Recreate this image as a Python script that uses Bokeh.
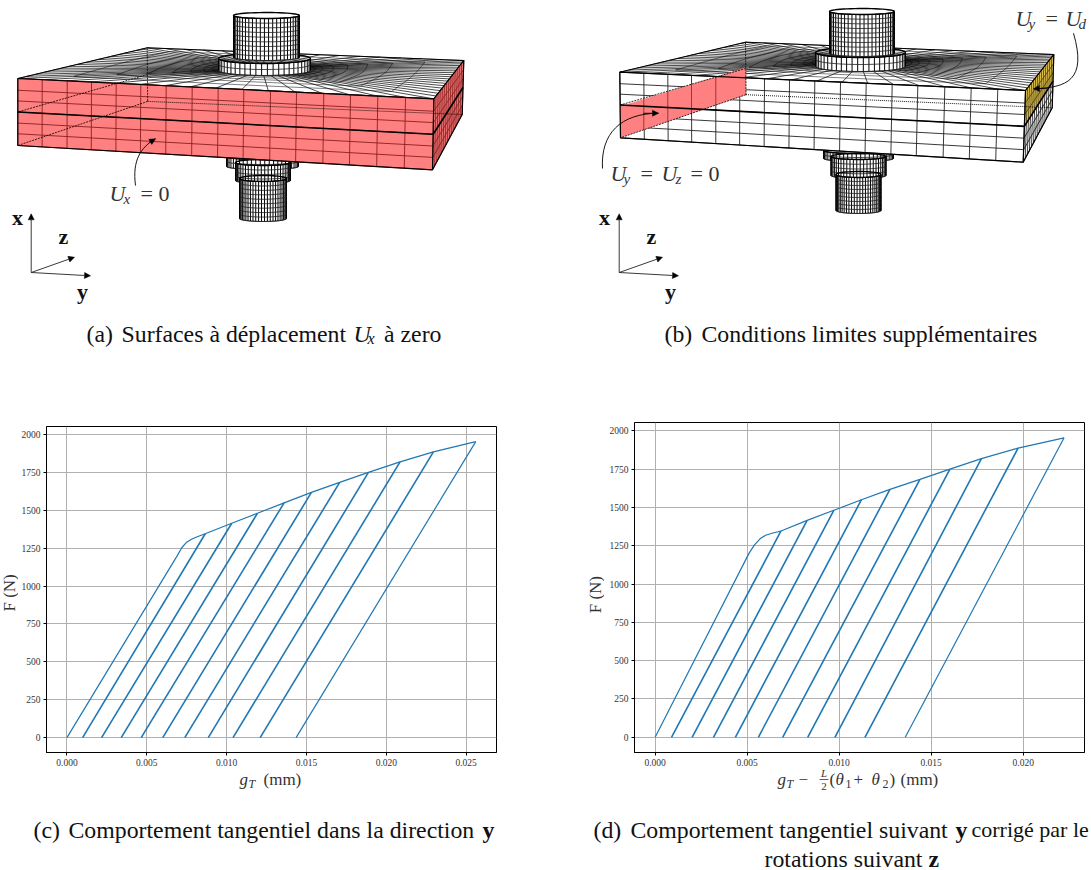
import numpy as np
from bokeh.plotting import figure
from bokeh.layouts import column, row
from bokeh.models import Range1d, FixedTicker, NumeralTickFormatter, Arrow, NormalHead
from bokeh.core.properties import value
from bokeh.embed import file_html
from bokeh.resources import INLINE

SERIF = "Liberation Serif"

# ---------- chart data (c) ----------
c_loading_x = [0.0, 0.0069, 0.0072, 0.0075, 0.0078, 0.0082, 0.00866]
c_loading_f = [0, 1200, 1255, 1290, 1310, 1328, 1346]
c_peak_x = [0.00866, 0.01032, 0.01193, 0.0136, 0.01531, 0.01708, 0.01888, 0.02086, 0.02295, 0.0256]
c_peak_f = [1346, 1415, 1481, 1550, 1619, 1685, 1751, 1820, 1886, 1954]
c_start_x = [0.00098, 0.00217, 0.0034, 0.00465, 0.0060, 0.00738, 0.00885, 0.0104, 0.0121, 0.01435]
# ---------- chart data (d) ----------
d_loading_x = [0.0, 0.0051, 0.0054, 0.0057, 0.0060, 0.0064, 0.00684]
d_loading_f = [0, 1200, 1255, 1295, 1318, 1333, 1346]
d_peak_x = [0.00684, 0.00826, 0.00971, 0.01121, 0.01276, 0.01439, 0.01602, 0.01773, 0.01972, 0.02222]
d_peak_f = [1346, 1415, 1481, 1550, 1618, 1683, 1750, 1818, 1887, 1954]
d_start_x = [0.00089, 0.00201, 0.00317, 0.00436, 0.00561, 0.00693, 0.00829, 0.00977, 0.0114, 0.01359]

x_ticks_c = [0.0, 0.005, 0.010, 0.015, 0.020, 0.025]
x_ticks_d = [0.0, 0.005, 0.010, 0.015, 0.020]
y_ticks = [0, 250, 500, 750, 1000, 1250, 1500, 1750, 2000]

# ---------- mesh drawings (page pixels) ----------
a_front = [(17.3, 78), (433.3, 98.3), (432, 169.3), (17.3, 145)]
a_back = [(146.7, 47.3), (463.3, 60), (461.7, 114)]
a_cols = [17.3, 41.7, 66.7, 91, 115.7, 140.3, 165.7, 191.7, 217.7, 243.3, 270, 296, 323.3, 350, 377.3, 405, 433.3]
b_front = [(619.3, 71.7), (1025, 90), (1022.7, 161.7), (620, 137.3)]
b_back = [(745, 41.7), (1053.3, 54), (1051.7, 107.3)]
b_cols = [619.3, 643.3, 667.3, 691, 715.3, 739.3, 764, 789, 814.3, 840, 865.7, 891.7, 917.3, 944.3, 970.7, 997.3, 1025]
row_fractions = [0, 0.175, 0.335, 0.5, 0.665, 0.825, 1]
ring_steps = [0, 0.03, 0.07, 0.12, 0.19, 0.28, 0.4, 0.55, 0.75, 1]
a_pegs = [(262, 36, 156, 166, 3, 2), (262.5, 27.5, 162, 180, 3, 4), (262.5, 23.5, 178, 218, 3, 9)]
a_top_pegs = [(264, 46, 58, 70, 5, 2), (266, 33, 15, 57, 3, 9)]
b_pegs = [(858, 35, 150, 158, 3, 2), (858, 27.5, 156, 175, 3, 4), (858, 22.5, 174, 210, 3, 9)]
b_top_pegs = [(860, 45, 52, 66, 5, 2), (861.5, 32.5, 11, 53, 3, 9)]

RED = "#ff8080"
DARKRED = "#8a1f1f"
YELLOW = "#e3c34f"


def homography(q):
    (x0, y0), (x1, y1), (x2, y2), (x3, y3) = q
    dx1, dx2, sx = x1 - x2, x3 - x2, x0 - x1 + x2 - x3
    dy1, dy2, sy = y1 - y2, y3 - y2, y0 - y1 + y2 - y3
    den = dx1 * dy2 - dx2 * dy1
    g = (sx * dy2 - dx2 * sy) / den
    h = (dx1 * sy - sx * dy1) / den
    a, b, c = x1 - x0 + g * x1, x3 - x0 + h * x3, x0
    d, e, f = y1 - y0 + g * y1, y3 - y0 + h * y3, y0

    def mp(u, v):
        w = g * u + h * v + 1
        return (a * u + b * v + c) / w, (d * u + e * v + f) / w
    return mp


def canvas(xr, yr, w, h):
    p = figure(width=w, height=h, x_range=Range1d(*xr), y_range=Range1d(*yr),
               output_backend="svg", toolbar_location=None,
               x_axis_location=None, y_axis_location=None,
               min_border_left=0, min_border_right=0, min_border_top=0, min_border_bottom=0)
    p.grid.visible = False
    p.outline_line_color = None
    p.background_fill_color = "white"
    return p


def cylinder(p, cx, rx, yt, yb, ry, nrows):
    th = np.linspace(0, np.pi, 26)
    xs = cx + rx * np.cos(th)
    low = ry * np.sin(th)
    p.patch(np.r_[xs, xs[::-1]], np.r_[yt + low, (yb + low)[::-1]], fill_color="white", line_color="black", line_width=0.7)
    vx = [[x, x] for x in xs]
    vy = [[yt + l, yb + l] for l in low]
    p.multi_line(vx, vy, line_color="black", line_width=1.0)
    levels = np.linspace(yt, yb, nrows + 1)
    p.multi_line([list(xs) for _ in levels], [list(y + low) for y in levels], line_color="#222222", line_width=0.8)
    t2 = np.linspace(0, 2 * np.pi, 50)
    p.line(cx + rx * np.cos(t2), yt + ry * np.sin(t2), line_color="black", line_width=1.4)


def draw_panel(p, front, back, cols, pegs, front_fill, front_line, side_style):
    TL, TR, BR, BL = front
    BKL, BKR, BKRB = back
    for spec in pegs:
        cylinder(p, *spec)
    # top face
    p.patch([TL[0], BKL[0], BKR[0], TR[0]], [TL[1], BKL[1], BKR[1], TR[1]], fill_color="white", line_color="black", line_width=1)
    mp = homography([TL, TR, BKR, BKL])
    nu, nv = 16, 18
    perim = [(i / nu, 0) for i in range(nu)] + [(1, j / nv) for j in range(nv)] + \
            [(1 - i / nu, 1) for i in range(nu)] + [(0, 1 - j / nv) for j in range(nv)]
    perim = np.array(perim + [perim[0]])
    ang = np.arctan2(perim[:, 1] - 0.5, perim[:, 0] - 0.5)
    cu, cv = 0.5 + 0.11 * np.cos(ang), 0.5 + 0.13 * np.sin(ang)
    rad_x, rad_y = [], []
    for k in range(len(perim) - 1):
        xx, yy = mp(np.array([cu[k], perim[k, 0]]), np.array([cv[k], perim[k, 1]]))
        rad_x.append(list(xx)); rad_y.append(list(yy))
    p.multi_line(rad_x, rad_y, line_color="black", line_width=0.7)
    ring_x, ring_y = [], []
    for t in ring_steps:
        xx, yy = mp((1 - t) * cu + t * perim[:, 0], (1 - t) * cv + t * perim[:, 1])
        ring_x.append(list(xx)); ring_y.append(list(yy))
    p.multi_line(ring_x, ring_y, line_color="black", line_width=0.5)
    # side face
    def side(t, f):
        xa = TR[0] + (BKR[0] - TR[0]) * t
        ya = TR[1] + (BKR[1] - TR[1]) * t
        xb = BR[0] + (BKRB[0] - BR[0]) * t
        yb = BR[1] + (BKRB[1] - BR[1]) * t
        return xa + (xb - xa) * f, ya + (yb - ya) * f
    for f0, f1, col, lc in side_style:
        xs = [side(0, f0)[0], side(1, f0)[0], side(1, f1)[0], side(0, f1)[0]]
        ys = [side(0, f0)[1], side(1, f0)[1], side(1, f1)[1], side(0, f1)[1]]
        p.patch(xs, ys, fill_color=col, line_color=None)
        ts = np.linspace(0, 1, 15)
        p.multi_line([[side(t, f0)[0], side(t, f1)[0]] for t in ts], [[side(t, f0)[1], side(t, f1)[1]] for t in ts], line_color=lc, line_width=0.8)
        fr = [f for f in row_fractions if f0 <= f <= f1]
        p.multi_line([[side(0, f)[0], side(1, f)[0]] for f in fr], [[side(0, f)[1], side(1, f)[1]] for f in fr], line_color=lc, line_width=0.8)
    # front face
    p.patch([TL[0], TR[0], BR[0], BL[0]], [TL[1], TR[1], BR[1], BL[1]], fill_color=front_fill, line_color=None)
    w = cols[-1] - cols[0]
    col_xs, col_ys = [], []
    for c in cols:
        t = (c - cols[0]) / w
        xt, yt = TL[0] + (TR[0] - TL[0]) * t, TL[1] + (TR[1] - TL[1]) * t
        xb, yb = BL[0] + (BR[0] - BL[0]) * t, BL[1] + (BR[1] - BL[1]) * t
        col_xs.append([xt, xb]); col_ys.append([yt, yb])
    p.multi_line(col_xs, col_ys, line_color=front_line, line_width=0.9)
    row_xs, row_ys = [], []
    for f in row_fractions:
        row_xs.append([TL[0] + (BL[0] - TL[0]) * f, TR[0] + (BR[0] - TR[0]) * f])
        row_ys.append([TL[1] + (BL[1] - TL[1]) * f, TR[1] + (BR[1] - TR[1]) * f])
    p.multi_line(row_xs, row_ys, line_color=front_line, line_width=0.9)
    return mp, side


def edges(p, front, back, side):
    TL, TR, BR, BL = front
    BKL, BKR, BKRB = back
    p.line([TL[0], TR[0], BR[0], BL[0], TL[0]], [TL[1], TR[1], BR[1], BL[1], TL[1]], line_color="black", line_width=1.2)
    p.line([TR[0], BKR[0], BKRB[0], BR[0]], [TR[1], BKR[1], BKRB[1], BR[1]], line_color="black", line_width=1.2)
    mx0, my0 = (TL[0] + BL[0]) / 2, (TL[1] + BL[1]) / 2
    mx1, my1 = (TR[0] + BR[0]) / 2, (TR[1] + BR[1]) / 2
    mb = side(1, 0.5)
    p.line([mx0, mx1, mb[0]], [my0, my1, mb[1]], line_color="black", line_width=1.6)
    hb = (BKL[0] + 0.5, BKL[1] + (BL[1] - TL[1]) * 0.8)
    hm = (BKL[0] + 0.2, (BKL[1] + hb[1]) / 2)
    p.line([BKL[0], hb[0]], [BKL[1], hb[1]], line_color="black", line_width=0.8, line_dash="2 1")
    p.line([hb[0], BL[0]], [hb[1], BL[1]], line_color="black", line_width=0.8, line_dash="2 1")
    p.line([hm[0], mx0], [hm[1], my0], line_color="black", line_width=0.8, line_dash="2 1")
    e = side(1, 1)
    p.line([hb[0], e[0]], [hb[1], e[1]], line_color="black", line_width=0.9, line_dash="1 1")


def triad(p, ox, oy, xtop, yend, zend, xlab, zlab, ylab):
    head = lambda: NormalHead(size=6, fill_color="black", line_color="black", line_width=0.5)
    for (ex, ey) in (xtop, yend, zend):
        p.add_layout(Arrow(end=head(), x_start=ox, y_start=oy, x_end=ex, y_end=ey, line_color="#222222", line_width=0.9))
    for s, (x, y) in zip("xzy", (xlab, zlab, ylab)):
        p.text([x], [y], text=[s], text_font=value(SERIF), text_font_style="bold", text_font_size="22px",
               text_align="center", text_baseline="middle", text_color="#111111")


def curve_arrow(p, x0, y0, cx0, cy0, cx1, cy1, x1, y1):
    p.bezier([x0], [y0], [x1], [y1], [cx0], [cy0], [cx1], [cy1], line_color="black", line_width=0.9)
    p.add_layout(Arrow(end=NormalHead(size=6, fill_color="black", line_color="black", line_width=0.5),
                       x_start=x1 - (x1 - cx1) * 0.4, y_start=y1 - (y1 - cy1) * 0.4, x_end=x1, y_end=y1,
                       line_color="black", line_width=0.9))


def txt(p, x, y, s, size=23.8, style="normal", align="left", color="#111111"):
    p.text([x], [y], text=[s], text_font=value(SERIF), text_font_style=style, text_font_size=f"{size}px",
           text_align=align, text_baseline="middle", text_color=color)


G = "#333333"
# ---------- top drawings ----------
top = canvas((0, 1091), (400, 0), 1091, 400)
_, side_a = draw_panel(top, a_front, a_back, a_cols, a_pegs, RED, DARKRED, [(0, 1, "#e87070", DARKRED)])
edges(top, a_front, a_back, side_a)
for spec in a_top_pegs:
    cylinder(top, *spec)
triad(top, 30.7, 272, (30.7, 213.3), (90, 275.3), (74, 256.7), (17, 217), (63, 236), (82, 291))
curve_arrow(top, 135, 185, 131.7, 160, 140, 147, 155, 138.3)
txt(top, 109, 193, "U", 22, "italic", color=G)
txt(top, 123, 198, "x", 15, "italic", color=G)
txt(top, 140, 193, "= 0", 22, color=G)
txt(top, 86, 333, "(a)")
txt(top, 121, 333, "Surfaces à déplacement")
txt(top, 353, 333, "U", style="italic")
txt(top, 367, 338, "x", 16, "italic")
txt(top, 441, 333, "à zero", align="right")

_, side_b = draw_panel(top, b_front, b_back, b_cols, b_pegs, "white", "#222222",
                       [(0, 0.5, YELLOW, "#4a3d10"), (0.5, 1, "white", "#111111")])
top.patch([619.3, 745.7, 745.7, 620], [106, 66.7, 94.3, 137.3], fill_color=RED, line_color=None)
clip_cols = b_cols[:6]
top.multi_line([[x, x] for x in clip_cols[1:5]],
               [[106 - (x - 619.3) * 0.311, 137.3 - (x - 620) * 0.342] for x in clip_cols[1:5]],
               line_color=DARKRED, line_width=0.8)
edges(top, b_front, b_back, side_b)
for spec in b_top_pegs:
    cylinder(top, *spec)
triad(top, 618.7, 272, (618.7, 213.3), (678, 275.3), (662, 256.7), (604, 217), (651, 236), (670, 291))
curve_arrow(top, 602, 168, 600, 133, 620, 113, 658, 112.7)
curve_arrow(top, 1073, 32.7, 1086.7, 80, 1066.7, 87, 1033, 88.3)
txt(top, 610, 173, "U", 22, "italic", color=G)
txt(top, 623, 178, "y", 15, "italic", color=G)
txt(top, 640, 173, "=", 22, color=G)
txt(top, 661, 173, "U", 22, "italic", color=G)
txt(top, 675, 178, "z", 15, "italic", color=G)
txt(top, 690, 173, "= 0", 22, color=G)
txt(top, 1015, 18, "U", 22, "italic", color=G)
txt(top, 1028, 23, "y", 15, "italic", color=G)
txt(top, 1045, 18, "=", 22, color=G)
txt(top, 1065, 18, "U", 22, "italic", color=G)
txt(top, 1078, 23, "d", 15, "italic", color=G)
txt(top, 664, 333, "(b)")
txt(top, 701, 333, "Conditions limites supplémentaires")


# ---------- charts ----------
def chart(w, h, left, right, tp, xr, yr, xticks, lx, lf, px, pf, sx, margin):
    p = figure(width=w, height=h, x_range=Range1d(*xr), y_range=Range1d(*yr), output_backend="svg",
               toolbar_location=None, min_border_left=left, min_border_right=right,
               min_border_top=tp, min_border_bottom=15, margin=margin)
    p.background_fill_color = "white"
    p.outline_line_color = "black"
    p.outline_line_width = 1
    p.grid.grid_line_color = "#b0b0b0"
    p.grid.grid_line_width = 1
    p.xaxis.ticker = FixedTicker(ticks=xticks)
    p.yaxis.ticker = FixedTicker(ticks=y_ticks)
    p.xaxis.formatter = NumeralTickFormatter(format="0.000")
    p.yaxis.formatter = NumeralTickFormatter(format="0")
    for ax in (p.xaxis, p.yaxis):
        ax.major_tick_in = 0
        ax.major_tick_out = 3
        ax.minor_tick_in = 0
        ax.minor_tick_out = 0
        ax.major_label_text_font = SERIF
        ax.major_label_text_font_size = "9.5px"
        ax.major_label_text_color = "#333333"
        ax.major_label_standoff = 3
        ax.axis_line_color = "black"
    p.line(lx + px, lf + pf, line_color="#1f77b4", line_width=1.2)
    p.multi_line([[s, x] for s, x in zip(sx[:-1], px[:-1])], [[0, f] for f in pf[:-1]], line_color="#1f77b4", line_width=1.6)
    p.line([sx[-1], px[-1]], [0, pf[-1]], line_color="#1f77b4", line_width=1.2)
    return p


def ylabel_strip(x0, x1, xc, yc):
    p = canvas((x0, x1), (768, 400), x1 - x0, 368)
    p.text([xc], [yc], text=["F (N)"], text_font=value(SERIF), text_font_size="17px", text_color=G,
           text_align="center", text_baseline="middle", angle=np.pi / 2)
    return p


strip_c = ylabel_strip(0, 18, 8.5, 590)
chart_c = chart(552, 364, 28, 74, 22, (-0.00128, 0.0269), (-98.5, 2054), x_ticks_c,
                c_loading_x, c_loading_f, c_peak_x, c_peak_f, c_start_x, (4, 0, 0, 0))
strip_d = ylabel_strip(570, 604, 595, 592)
chart_d = chart(487, 368, 30, 7, 22, (-0.00112, 0.02333), (-99.5, 2054), x_ticks_d,
                d_loading_x, d_loading_f, d_peak_x, d_peak_f, d_start_x, 0)

# ---------- bottom: axis titles and captions ----------
bot = canvas((0, 1091), (870, 768), 1091, 102)
txt(bot, 239, 779, "g", 17, "italic", color=G)
txt(bot, 248, 783, "T", 12, "italic", color=G)
txt(bot, 263, 779, "(mm)", 17, color=G)
txt(bot, 777, 779, "g", 17, "italic", color=G)
txt(bot, 786, 783, "T", 12, "italic", color=G)
txt(bot, 798, 779, "−", 17, color=G)
txt(bot, 823.5, 772, "L", 11, "italic", align="center", color=G)
txt(bot, 823.5, 786, "2", 11, align="center", color=G)
bot.line([819, 828], [779, 779], line_color=G, line_width=0.8)
txt(bot, 829, 779, "(", 17, color=G)
txt(bot, 835, 779, "θ", 17, "italic", color=G)
txt(bot, 845, 783, "1", 12, color=G)
txt(bot, 853, 779, "+", 17, color=G)
txt(bot, 871, 779, "θ", 17, "italic", color=G)
txt(bot, 882, 783, "2", 12, color=G)
txt(bot, 889, 779, ")", 17, color=G)
txt(bot, 900, 779, "(mm)", 17, color=G)

txt(bot, 33, 829, "(c)")
txt(bot, 68, 829, "Comportement tangentiel dans la direction")
txt(bot, 494, 829, "y", style="bold", align="right")
txt(bot, 593, 829, "(d)")
txt(bot, 630, 829, "Comportement tangentiel suivant")
txt(bot, 955, 829, "y", style="bold")
txt(bot, 971, 829, "corrigé par le", 22)
txt(bot, 764, 858, "rotations suivant")
txt(bot, 928, 858, "z", style="bold")

page = column(top, row(strip_c, chart_c, strip_d, chart_d, spacing=0), bot, spacing=0)
open("out.html", "w").write(file_html(page, INLINE))
